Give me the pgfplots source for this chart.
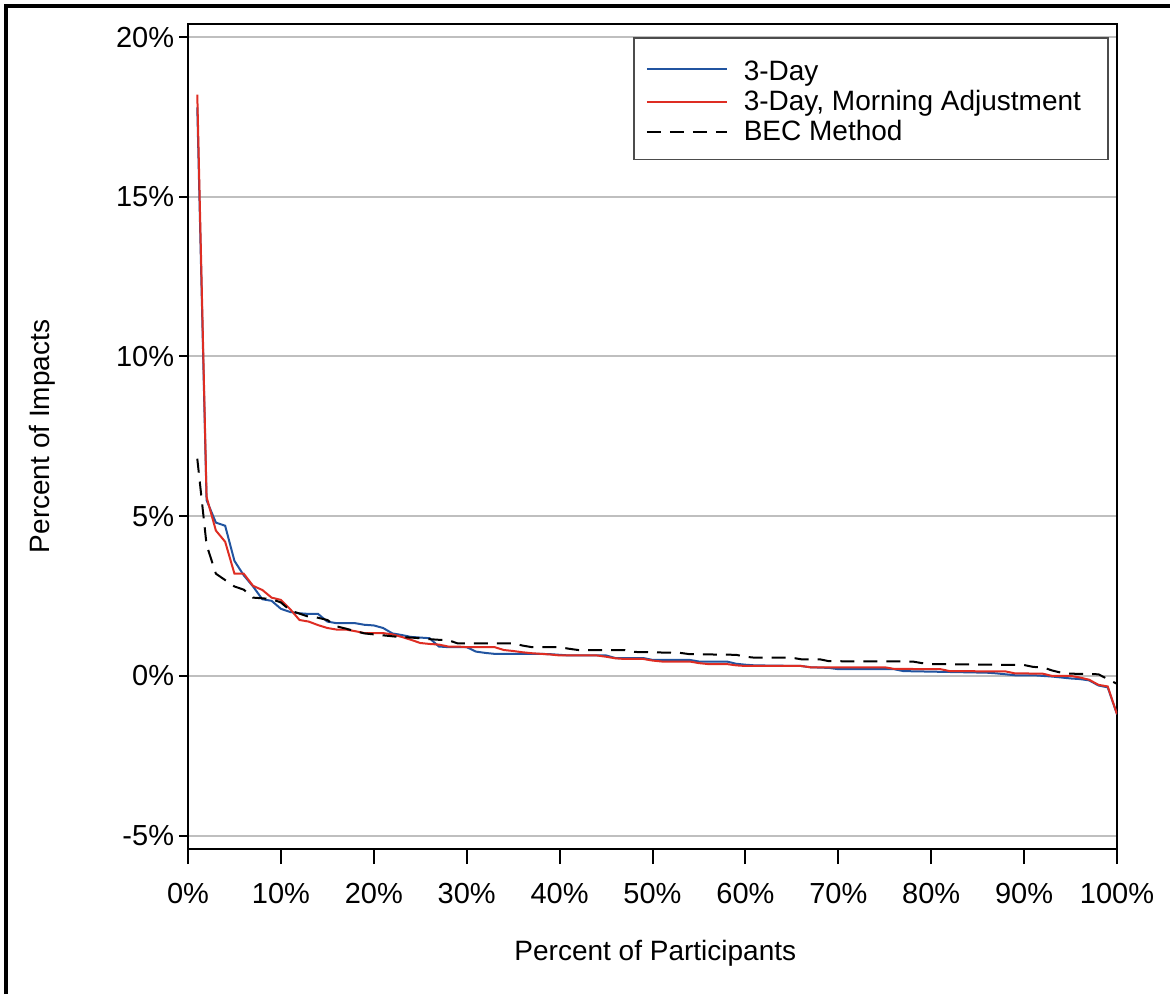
\documentclass[border=0pt]{standalone}
\usepackage{fontspec}
\setmainfont{Liberation Sans}
\usepackage{pgfplots}
\pgfplotsset{compat=1.18}
\definecolor{bluel}{RGB}{33,84,160}
\definecolor{redl}{RGB}{222,45,35}
\begin{document}
\begin{tikzpicture}
\useasboundingbox (0,0) rectangle (585pt,-497pt);
\draw[line width=2pt] (3pt,-497pt) -- (3pt,-3pt) -- (585pt,-3pt);
\begin{axis}[
  at={(94pt,-424.5pt)}, anchor=south west,
  scale only axis, width=464.5pt, height=412.5pt,
  xmin=0, xmax=100, ymin=-5.42, ymax=20.41,
  axis line style={line width=1pt},
  xtick={0,10,...,100},
  xticklabels={0\%,10\%,20\%,30\%,40\%,50\%,60\%,70\%,80\%,90\%,100\%},
  ytick={-5,0,5,10,15,20},
  yticklabels={-5\%,0\%,5\%,10\%,15\%,20\%},
  tick align=outside, xtick pos=left, ytick pos=left,
  xtick style={black,line width=1pt,/pgfplots/major tick length=7.5pt},
  ytick style={black,line width=1pt,/pgfplots/major tick length=4.5pt},
  ticklabel style={font=\fontsize{14.5}{16}\selectfont},
  xticklabel style={yshift=-9.5pt},
  yticklabel style={inner xsep=2.5pt},
  ymajorgrids, grid style={gray!50,line width=1pt},
  xlabel={Percent of Participants}, ylabel={Percent of Impacts},
  label style={font=\fontsize{14}{16}\selectfont},
  xlabel style={at={(axis description cs:0.503,-0.126)},anchor=center},
  ylabel style={at={(axis description cs:-0.157,0.5)},anchor=center,rotate=0},
  legend cell align=left,
  legend style={at={(rel axis cs:0.479,0.984)},anchor=north west,
    draw=black!70, line width=0.8pt, font=\fontsize{14}{15}\selectfont,
    inner xsep=6pt, inner ysep=6pt, row sep=-0.5pt},
  legend image code/.code={\draw[#1,line width=1pt] (0pt,0pt) -- (40pt,0pt);\path (46pt,0pt);},
]
\addplot[bluel, line width=1pt] coordinates {
(1,17.8)(2,5.5)(3,4.8)(4,4.7)(5,3.6)(6,3.15)(7,2.8)(8,2.4)(9,2.35)(10,2.1)
(11,2.0)(12,1.96)(13,1.94)(14,1.94)(15,1.7)(16,1.65)(17,1.65)(18,1.65)(19,1.6)(20,1.58)
(21,1.5)(22,1.33)(23,1.28)(24,1.22)(25,1.2)(26,1.18)(27,0.92)(28,0.9)(29,0.9)(30,0.9)
(31,0.76)(32,0.72)(33,0.69)(34,0.69)(35,0.69)(36,0.69)(37,0.69)(38,0.69)(39,0.68)(40,0.66)
(41,0.64)(45,0.64)(46,0.56)(49,0.56)(50,0.5)(54,0.5)(55,0.45)(58,0.45)(59,0.38)(60,0.35)
(61,0.33)(66,0.31)(67,0.27)(69,0.25)(70,0.21)(76,0.21)(77,0.15)(86,0.1)(87,0.08)(88,0.05)
(89,0.02)(91,0.02)(92,0.0)(93,-0.02)(95,-0.08)(96,-0.1)(97,-0.14)(98,-0.3)(99,-0.36)(100,-1.2)
};
\addlegendentry{\rule{0pt}{13pt}3-Day}
\addplot[redl, line width=1pt] coordinates {
(1,18.2)(2,5.6)(3,4.55)(4,4.2)(5,3.2)(6,3.2)(7,2.82)(8,2.69)(9,2.45)(10,2.38)
(11,2.09)(12,1.75)(13,1.7)(14,1.59)(15,1.5)(16,1.45)(17,1.45)(18,1.4)(19,1.34)(20,1.34)
(21,1.34)(22,1.3)(23,1.22)(24,1.13)(25,1.03)(26,1.0)(27,0.98)(28,0.92)(29,0.92)(30,0.9)
(31,0.9)(32,0.9)(33,0.9)(34,0.81)(35,0.78)(36,0.74)(37,0.71)(38,0.69)(39,0.67)(40,0.64)
(44,0.64)(45,0.6)(46,0.55)(47,0.53)(49,0.53)(50,0.48)(51,0.45)(54,0.45)(55,0.4)(56,0.37)
(58,0.37)(59,0.33)(60,0.31)(66,0.31)(67,0.27)(75,0.27)(76,0.22)(81,0.21)(82,0.15)(88,0.14)
(89,0.08)(92,0.07)(93,0.0)(95,0.0)(96,-0.05)(97,-0.12)(98,-0.28)(99,-0.33)(100,-1.2)
};
\addlegendentry{3-Day, Morning Adjustment\hspace*{5.5pt}}
\addplot[black, line width=1pt, dash pattern=on 7pt off 4.5pt] coordinates {
(1,6.8)(2,4.1)(3,3.2)(4,3.0)(5,2.8)(6,2.7)(7,2.45)(8,2.43)(9,2.4)(10,2.3)
(11,2.05)(12,1.95)(13,1.85)(14,1.82)(15,1.75)(16,1.55)(17,1.48)(18,1.4)(19,1.33)(20,1.3)
(21,1.27)(22,1.24)(23,1.21)(24,1.2)(25,1.18)(26,1.15)(27,1.13)(28,1.12)(29,1.02)(35,1.02)
(36,0.95)(37,0.9)(40,0.9)(41,0.85)(42,0.81)(47,0.81)(48,0.75)(53,0.72)(54,0.68)(59,0.66)
(60,0.6)(61,0.57)(65,0.57)(66,0.52)(68,0.52)(69,0.46)(78,0.45)(79,0.4)(80,0.37)(90,0.34)
(91,0.28)(92,0.27)(93,0.17)(94,0.1)(95,0.07)(98,0.05)(99,-0.1)(100,-0.25)
};
\addlegendentry{BEC Method}
\end{axis}
\end{tikzpicture}
\end{document}
